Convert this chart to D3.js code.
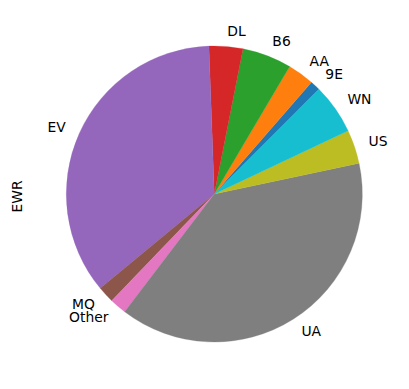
<!DOCTYPE html>
<html>
<head>
<meta charset="utf-8">
<script src="https://cdn.jsdelivr.net/npm/d3@7"></script>
<style>
  html, body { margin: 0; padding: 0; background: #fff; }
  svg { display: block; }
  text { font-family: "DejaVu Sans", sans-serif; font-size: 13.89px; fill: #000; }
</style>
</head>
<body>
<svg id="chart" width="409" height="389"></svg>
<script>
// Data (share of flights, percent), in plotting order
const categories = ["9E", "AA", "B6", "DL", "EV", "MQ", "Other", "UA", "US", "WN"];
const values = [1.11, 2.89, 5.39, 3.69, 35.42, 1.81, 1.83, 38.69, 3.69, 5.47];
const colors = ["#1f77b4", "#ff7f0e", "#2ca02c", "#d62728", "#9467bd",
                "#8c564b", "#e377c2", "#7f7f7f", "#bcbd22", "#17becf"];
const yLabel = "EWR";

const svg = d3.select("#chart");
const cx = 214.3, cy = 194, r = 148;
const startDeg = 45; // counter-clockwise from 3 o'clock

const data = categories.map((c, i) => ({ cat: c, value: values[i], color: colors[i] }));

// d3 angles: clockwise from 12 o'clock; go counter-clockwise
const a0 = (90 - startDeg) * Math.PI / 180;
const pie = d3.pie().value(d => d.value).sort(null)
  .startAngle(a0).endAngle(a0 - 2 * Math.PI);
const arcs = pie(data);
const arc = d3.arc().innerRadius(0).outerRadius(r);

const g = svg.append("g").attr("transform", `translate(${cx},${cy})`);
g.selectAll("path").data(arcs).join("path")
  .attr("d", arc)
  .attr("fill", d => d.data.color)
  .attr("stroke", d => d.data.color)
  .attr("stroke-width", 0.3);

g.selectAll("text.lbl").data(arcs).join("text")
  .attr("class", "lbl")
  .each(function(d) {
    const a = (d.startAngle + d.endAngle) / 2;
    const x = Math.sin(a) * r * 1.1;
    const y = -Math.cos(a) * r * 1.1;
    d3.select(this)
      .attr("x", x).attr("y", y).attr("dy", "0.3em")
      .attr("text-anchor", x > 0 ? "start" : "end")
      .text(d.data.cat);
  });

svg.append("text")
  .attr("transform", `translate(21.5,196.5) rotate(-90)`)
  .attr("text-anchor", "middle")
  .text(yLabel);
</script>
</body>
</html>
